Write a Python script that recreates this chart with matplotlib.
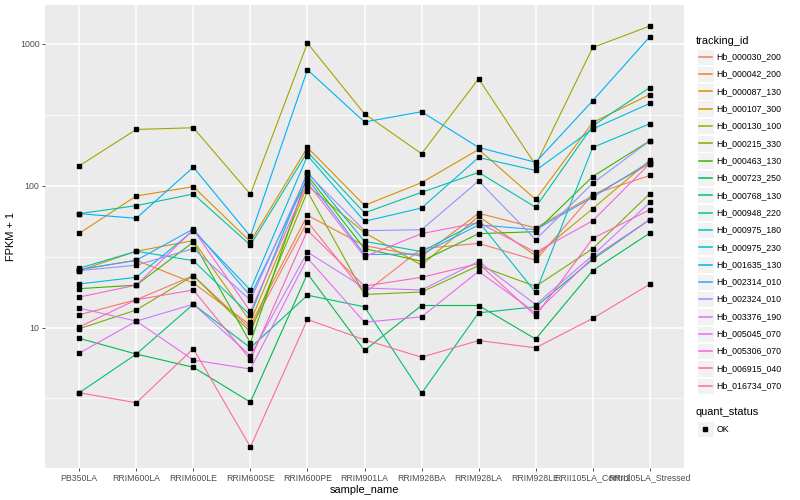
import numpy as np
import matplotlib
matplotlib.use("Agg")
import matplotlib.pyplot as plt
from matplotlib.patches import Rectangle

plt.rcParams['font.family'] = ['Liberation Sans', 'DejaVu Sans']

# samples on the x axis
samples = ["PB350LA", "RRIM600LA", "RRIM600LE", "RRIM600SE", "RRIM600PE",
           "RRIM901LA", "RRIM928BA", "RRIM928LA", "RRIM928LE",
           "RRII105LA_Control", "RRII105LA_Stressed"]

tracking_ids = ["Hb_000030_200", "Hb_000042_200", "Hb_000087_130", "Hb_000107_300",
                "Hb_000130_100", "Hb_000215_330", "Hb_000463_130", "Hb_000723_250",
                "Hb_000768_130", "Hb_000948_220", "Hb_000975_180", "Hb_000975_230",
                "Hb_001635_130", "Hb_002314_010", "Hb_002324_010", "Hb_003376_190",
                "Hb_005045_070", "Hb_005306_070", "Hb_006915_040", "Hb_016734_070"]

# ggplot default hue palette for 20 levels
colors = ["#F8766D", "#EA8331", "#D89000", "#C09B00", "#A3A500", "#7CAE00",
          "#39B600", "#00BB4E", "#00BF7D", "#00C1A3", "#00BFC4", "#00BAE0",
          "#00B0F6", "#35A2FF", "#9590FF", "#C77CFF", "#E76BF3", "#FA62DB",
          "#FF62BC", "#FF6C91"]

# FPKM + 1 (one row per tracking_id)
fpkm = [
    [12.3, 15.7, 23.2, 9.8, 55.8, 17.5, 36.0, 39.2, 29.8, 87.0, 118],     # 000030_200
    [25.6, 29.8, 20.6, 10.4, 61.8, 37.8, 31.8, 63.9, 50.4, 85.0, 143],    # 000042_200
    [46.1, 84.6, 98.4, 40.3, 186, 72.6, 105, 180, 80.0, 279, 439],        # 000087_130
    [25.2, 34.5, 41.0, 11.0, 100, 46.7, 27.5, 60.8, 32.1, 68.9, 151],     # 000107_300
    [138, 249, 256, 87.0, 1011, 321, 168, 567, 140, 942, 1334],           # 000130_100
    [9.8, 13.3, 23.2, 9.3, 91.0, 17.1, 17.8, 27.3, 19.5, 36.0, 87.9],     # 000215_330
    [18.8, 19.9, 40.0, 7.8, 118, 36.0, 29.3, 45.9, 47.4, 116, 207],       # 000463_130
    [8.4, 6.5, 5.25, 2.98, 24.0, 6.9, 14.3, 14.3, 8.3, 25.2, 46.3],       # 000723_250
    [3.47, 6.5, 14.6, 7.2, 16.9, 14.0, 3.44, 12.7, 14.0, 30.2, 57.7],     # 000768_130
    [63.5, 72.3, 87.4, 38.1, 173, 64.3, 89.7, 124, 70.4, 264, 492],       # 000948_220
    [26.2, 34.5, 29.6, 12.2, 125, 40.5, 34.3, 55.8, 17.7, 186, 273],      # 000975_180
    [20.3, 22.6, 48.2, 18.4, 163, 56.1, 69.6, 158, 128, 251, 380],        # 000975_230
    [63.5, 58.9, 135, 44.0, 656, 281, 332, 186, 146, 397, 1120],          # 001635_130
    [25.6, 29.8, 49.5, 16.7, 112, 32.7, 33.0, 52.9, 49.0, 83.0, 147],     # 002314_010
    [25.2, 27.5, 36.0, 15.6, 122, 48.2, 48.9, 108, 41.7, 104, 207],       # 002324_010
    [13.7, 11.1, 14.6, 6.35, 34.0, 19.0, 18.4, 29.3, 14.5, 32.3, 76.2],   # 003376_190
    [6.6, 11.1, 5.9, 5.1, 30.9, 10.9, 11.9, 24.9, 12.7, 31.1, 57.7],      # 005045_070
    [16.4, 19.9, 49.0, 13.0, 105, 31.6, 45.9, 55.0, 33.9, 56.6, 143],     # 005306_070
    [10.1, 15.7, 18.4, 5.95, 48.4, 19.6, 22.6, 28.2, 12.1, 42.5, 67.7],   # 006915_040
    [3.47, 2.95, 7.1, 1.44, 11.4, 8.2, 6.18, 8.1, 7.2, 11.6, 20.2],       # 016734_070
]

fig = plt.figure(figsize=(8, 5), dpi=100)
W, H = 800, 500
ax = fig.add_axes([45 / W, 32 / H, 639 / W, 463 / H])
ax.set_facecolor("#EBEBEB")

x = np.arange(len(samples))
for vals, col in zip(fpkm, colors):
    ax.plot(x, vals, color=col, lw=0.8, zorder=3)
for vals in fpkm:
    ax.plot(x, vals, ls="none", marker="s", ms=2.8, color="black", zorder=4)

ax.set_yscale("log")
lo = np.log10(min(min(r) for r in fpkm))
hi = np.log10(max(max(r) for r in fpkm))
pad = (hi - lo) * 0.05
ax.set_ylim(10 ** (lo - pad), 10 ** (hi + pad))
ax.set_xlim(-0.6, len(samples) - 0.4)

ax.set_yticks([10, 100, 1000])
ax.set_yticklabels(["10", "100", "1000"])
ax.set_yticks([10 ** 0.5, 10 ** 1.5, 10 ** 2.5], minor=True)
ax.yaxis.set_minor_formatter(plt.NullFormatter())
ax.set_xticks(x)
ax.set_xticklabels(samples)

ax.grid(True, which="major", color="white", lw=1.1, zorder=1)
ax.grid(True, which="minor", axis="y", color="white", lw=0.55, zorder=1)
ax.set_axisbelow(True)
for s in ax.spines.values():
    s.set_visible(False)
ax.tick_params(which="major", length=2.5, width=0.6, color="#333333",
               labelcolor="#4D4D4D", labelsize=6.3, pad=1.5)
ax.tick_params(which="minor", length=0)

ax.set_xlabel("sample_name", fontsize=7.9, labelpad=1.5)
ax.set_ylabel("FPKM + 1", fontsize=7.9, labelpad=3)

# legend drawn in pixel coordinates
lg = fig.add_axes([0, 0, 1, 1])
lg.set_xlim(0, W)
lg.set_ylim(H, 0)
lg.axis("off")
lg.patch.set_alpha(0)

lg.text(696, 40.5, "tracking_id", fontsize=7.9, va="center", ha="left")
y0, step = 56.7, 17.32
for i, (name, col) in enumerate(zip(tracking_ids, colors)):
    yc = y0 + i * step
    lg.add_patch(Rectangle((697, yc - 8.2), 16.5, 16.4, facecolor="#F2F2F2",
                           edgecolor="white", lw=0.8, zorder=1))
    lg.plot([698.5, 711.5], [yc, yc], color=col, lw=1.1, zorder=3)
    lg.text(716.5, yc, name, fontsize=6.3, va="center", ha="left")

lg.text(696, 412.3, "quant_status", fontsize=7.9, va="center", ha="left")
lg.add_patch(Rectangle((697, 429 - 8.2), 16.5, 16.4, facecolor="#F2F2F2",
                       edgecolor="white", lw=0.8, zorder=1))
lg.plot([705.2], [429], marker="s", ms=2.8, color="black", zorder=3)
lg.text(716.5, 429, "OK", fontsize=6.3, va="center", ha="left")

fig.savefig("out.png", dpi=100)
